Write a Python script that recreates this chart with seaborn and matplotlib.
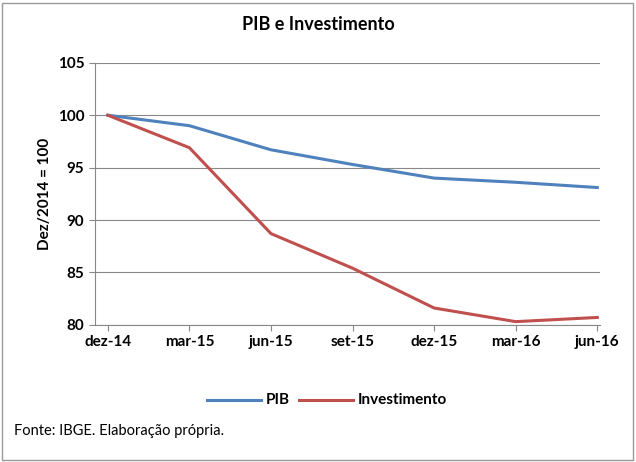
import pandas as pd
import matplotlib.pyplot as plt
import seaborn as sns

# dados
meses = ['dez-14', 'mar-15', 'jun-15', 'set-15', 'dez-15', 'mar-16', 'jun-16']
pib = [100, 99.0, 96.7, 95.3, 94.0, 93.6, 93.1]
investimento = [100, 96.9, 88.7, 85.4, 81.6, 80.3, 80.7]

df = pd.DataFrame({'pos': list(range(len(meses))) * 2,
                   'valor': pib + investimento,
                   'serie': ['PIB'] * len(meses) + ['Investimento'] * len(meses)})

plt.rcParams['font.family'] = 'Lato'
fig = plt.figure(figsize=(6.36, 4.62), dpi=100)
ax = fig.add_axes([0.149, 0.297, 0.794, 0.567])

sns.lineplot(data=df, x='pos', y='valor', hue='serie',
             palette={'PIB': '#4F81BD', 'Investimento': '#C0504D'},
             linewidth=2.2, ax=ax, legend=False)

ax.set_xlim(-0.16, 6.03)
ax.set_ylim(80, 105)
ax.set_yticks([80, 85, 90, 95, 100, 105])
ax.set_xticks(range(len(meses)))
ax.set_xticklabels(meses)
ax.grid(axis='y', color='#888888', linewidth=0.8)
ax.set_axisbelow(True)
for s in ['top', 'right']:
    ax.spines[s].set_visible(False)
for s in ['left', 'bottom']:
    ax.spines[s].set_color('#888888')
ax.tick_params(labelsize=11, length=4, color='#888888')
for lbl in ax.get_xticklabels() + ax.get_yticklabels():
    lbl.set_fontweight('bold')
ax.set_xlabel('')
ax.set_ylabel('Dez/2014 = 100', fontsize=11, fontweight='bold')

fig.text(0.5, 0.935, 'PIB e Investimento', ha='center', fontsize=13, fontweight='bold')

# legenda
fig.lines.append(plt.Line2D([0.325, 0.41], [0.135 + 0.0], transform=fig.transFigure,
                            color='#4F81BD', linewidth=2.2))
fig.text(0.418, 0.135, 'PIB', va='center', fontsize=11, fontweight='bold')
fig.lines.append(plt.Line2D([0.47, 0.555], [0.135, 0.135], transform=fig.transFigure,
                            color='#C0504D', linewidth=2.2))
fig.text(0.563, 0.135, 'Investimento', va='center', fontsize=11, fontweight='bold')

fig.text(0.022, 0.068, 'Fonte: IBGE. Elaboração própria.', fontsize=10.5, va='center')

fig.patches.append(plt.Rectangle((0.003, 0.004), 0.992, 0.99, transform=fig.transFigure,
                                 fill=False, edgecolor='#999999', linewidth=1))

fig.savefig('out.png', dpi=100)
